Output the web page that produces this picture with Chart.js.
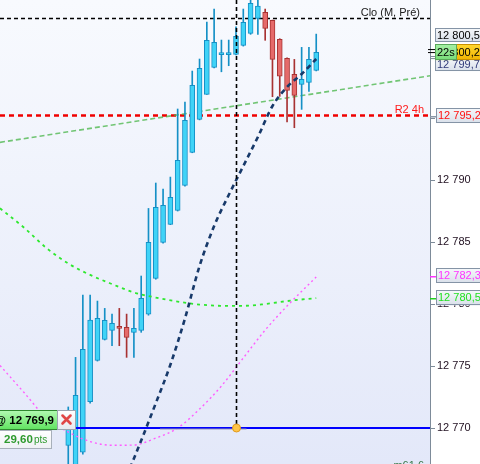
<!DOCTYPE html>
<html><head><meta charset="utf-8">
<script src="https://cdn.jsdelivr.net/npm/chart.js@4/dist/chart.umd.min.js"></script>
<style>html,body{margin:0;padding:0;background:#fff;overflow:hidden}#wrap{width:480px;height:464px}</style>
</head><body><div id="wrap"><canvas id="c" width="480" height="464"></canvas></div>
<script>
// ---- data ----
const candleIndex = [0,1,2,3,4,5,6,7,8,9,10,11,12,13,14,15,16,17,18,19,20,21,22,23,24,25,26,27,28,29,30,31,32,33,34];
const opens  = [12768.6,12767.0,12768.05,12772.12,12775.46,12777.15,12777.88,12778.2,12778.12,12777.72,12777.88,12779.18,12782.07,12784.97,12786.43,12787.55,12789.57,12792.23,12794.89,12796.91,12799.09,12800.12,12800.12,12800.14,12800.86,12801.83,12803.04,12803.52,12802.88,12801.35,12799.81,12798.52,12797.72,12797.88,12798.85];
const highs  = [12771.7,12775.7,12780.73,12780.73,12780.24,12779.65,12779.19,12779.65,12779.19,12779.65,12782.26,12787.71,12789.76,12789.27,12790.24,12795.73,12796.29,12798.79,12799.76,12802.74,12803.79,12801.29,12801.29,12802.36,12803.79,12805.0,12804.7,12803.79,12802.9,12801.4,12799.85,12799.73,12800.7,12800.7,12801.77];
const lows   = [12766.0,12766.5,12767.9,12772.0,12775.4,12777.1,12776.64,12776.64,12775.7,12775.7,12777.72,12779.1,12782.0,12784.9,12786.4,12787.5,12789.5,12792.2,12794.85,12796.9,12799.05,12798.73,12799.22,12800.1,12800.8,12801.75,12801.75,12801.27,12796.72,12796.75,12794.68,12794.22,12795.7,12797.15,12798.8];
const closes = [12770.9,12772.64,12776.35,12778.71,12778.85,12778.68,12778.44,12778.04,12777.31,12778.04,12780.46,12784.97,12787.8,12787.96,12788.6,12791.59,12794.81,12797.64,12799.01,12801.27,12801.1,12800.2,12800.2,12801.59,12802.72,12804.25,12804.03,12802.23,12799.73,12798.37,12797.23,12796.83,12798.12,12799.73,12800.3];

const longMaIdx  = [-9.36, 49.6];
const longMaVals = [12793.04, 12798.41];
const greenMaIdx  = [-9.36,-6,-3,0,3,6,9,12,15,18,21,24,27,30,34];
const greenMaVals = [12787.72,12786.13,12784.52,12783.27,12782.35,12781.61,12780.94,12780.52,12780.2,12779.96,12779.86,12779.86,12780.0,12780.24,12780.48];
const pinkMaIdx  = [-9.36,-6,-3,0,3,6,9,12,15,18,21,24,27,30,34];
const pinkMaVals = [12775.05,12772.82,12770.81,12769.68,12768.91,12768.61,12768.63,12769.19,12770.0,12771.53,12773.39,12775.65,12777.9,12779.84,12782.18];
const navyMaIdx  = [8,10,12,14,16,18,20,22,24,26,28,30,32,34];
const navyMaVals = [12766.1,12768.99,12772.0,12775.1,12778.83,12783.06,12786.29,12788.79,12791.13,12793.47,12795.97,12797.5,12798.55,12799.76];

const yTicks = [12770,12775,12780,12785,12790,12795,12800];
const cloLevel = 12803.05, r2Level = 12795.2, orderPrice = 12770, markerIndex = 23;
const tagHigh = 12800.5, tagLast = 12800.2, tagLow = 12799.7, tagR2 = 12795.2, tagPink = 12782.3, tagGreen = 12780.5;
const orderText = '@ 12 769,9', ptsText = '29,60', timerText = '22s';

// ---- helpers ----
const fmtTick = v => { const s = String(v); return s.slice(0,2)+' '+s.slice(2); };
const fmtVal = v => { const s = v.toFixed(1).replace('.', ','); return s.slice(0,2)+' '+s.slice(2); };
const isUp = closes.map((c,i)=>c>=opens[i]);
const upFill='#3fd3f7', upLine='#1590c6', dnFill='#e56a6a', dnLine='#a83232';

function box(ctx,x,y,w,h,fill0,fill1,stroke){
  const g=ctx.createLinearGradient(0,y,0,y+h); g.addColorStop(0,fill0); g.addColorStop(1,fill1);
  ctx.fillStyle=g; ctx.fillRect(x,y,w,h);
  ctx.strokeStyle=stroke; ctx.lineWidth=1; ctx.setLineDash([]);
  ctx.strokeRect(Math.round(x)+0.5,Math.round(y)+0.5,Math.round(w)-1,Math.round(h)-1);
}
function hline(ctx,a,y,color,w,dash){
  ctx.save(); ctx.beginPath(); ctx.strokeStyle=color; ctx.lineWidth=w; ctx.setLineDash(dash);
  ctx.moveTo(a.left,y); ctx.lineTo(a.right,y); ctx.stroke(); ctx.restore();
}

const deco = {
  id:'deco',
  beforeDraw(chart){
    const {ctx, chartArea:a} = chart;
    ctx.save();
    ctx.fillStyle='#fff'; ctx.fillRect(0,0,chart.width,chart.height);
    const g=ctx.createLinearGradient(0,a.top,0,a.bottom);
    g.addColorStop(0,'#f8fafe'); g.addColorStop(1,'#e3e8f9');
    ctx.fillStyle=g; ctx.fillRect(a.left,a.top,a.right-a.left,a.bottom-a.top);
    ctx.restore();
  },
  beforeDatasetsDraw(chart){
    const {ctx, chartArea:a, scales:{y}} = chart;
    const yc = Math.round(y.getPixelForValue(cloLevel))+0.5;
    hline(ctx,a,yc,'#000',1.4,[4,3]);
    const yr = y.getPixelForValue(r2Level);
    hline(ctx,a,yr,'#f00000',2.6,[5,4]);
    ctx.save();
    ctx.font='11px Arial, "Liberation Sans", sans-serif'; ctx.textAlign='right'; ctx.textBaseline='alphabetic';
    ctx.fillStyle='#202020'; ctx.fillText('Clo (M, Pré)', 420, yc-3);
    ctx.fillStyle='#ff1a1a'; ctx.fillText('R2 4h', 424, yr-3);
    ctx.restore();
  },
  afterDatasetsDraw(chart){
    const {ctx, chartArea:a, scales:{x,y}} = chart;
    const xm = Math.round(x.getPixelForValue(markerIndex))+0.5;
    const yp = Math.round(y.getPixelForValue(orderPrice));
    ctx.save();
    ctx.beginPath(); ctx.strokeStyle='#000'; ctx.lineWidth=1.6; ctx.setLineDash([4,3]);
    ctx.moveTo(xm,a.top); ctx.lineTo(xm,yp); ctx.stroke();
    ctx.setLineDash([]);
    ctx.beginPath(); ctx.strokeStyle='#0000ff'; ctx.lineWidth=2;
    ctx.moveTo(76,yp); ctx.lineTo(a.right,yp); ctx.stroke();
    ctx.beginPath(); ctx.strokeStyle='rgba(150,150,175,0.9)'; ctx.lineWidth=1.2;
    ctx.moveTo(160,yp+1); ctx.lineTo(xm+10,yp+1); ctx.stroke();
    ctx.beginPath(); ctx.arc(xm,yp,4,0,Math.PI*2); ctx.fillStyle='#ffc548'; ctx.fill();
    ctx.lineWidth=1; ctx.strokeStyle='#e09a20'; ctx.stroke();
    ctx.restore();
  },
  afterDraw(chart){
    const {ctx, chartArea:a, scales:{y}} = chart;
    ctx.save();
    const F='11px Arial, "Liberation Sans", sans-serif';
    ctx.font=F; ctx.textBaseline='middle'; ctx.textAlign='left';
    const X0=435, W=48;
    const yl = y.getPixelForValue(tagLast)-1.5;
    box(ctx,X0,yl+5,W,14,'#f6f8fb','#d9e0ea','#8594a6');
    ctx.fillStyle='#303a7a'; ctx.fillText(fmtVal(tagLow),X0+2,yl+12.5);
    box(ctx,X0,yl-24,W,14,'#f6f8fb','#d9e0ea','#8594a6');
    ctx.fillStyle='#000'; ctx.fillText(fmtVal(tagHigh),X0+2,yl-16.5);
    box(ctx,X0,yl-8,W,16,'#ffd830','#f2b400','#c89000');
    ctx.fillStyle='#000'; ctx.fillText(fmtVal(tagLast),X0+2,yl+0.5);
    box(ctx,X0,yl-8,22,16,'#a6f0a6','#78dc78','#5aa85a');
    ctx.fillStyle='#000'; ctx.fillText(timerText,X0+2,yl+0.5);
    ctx.fillStyle='#000'; ctx.fillRect(428,yl-3,7,1); ctx.fillRect(428,yl,7,1);
    ctx.fillStyle='#7d8b99'; ctx.fillRect(430,yl+6,5,1);
    const tags=[[tagR2,'#ff1010','#8a98a8'],[tagPink,'#ff33ff','#ff33ff'],[tagGreen,'#22e022','#22d022']];
    tags.forEach(([v,c,tc])=>{
      const yy=y.getPixelForValue(v);
      ctx.fillStyle=tc; ctx.fillRect(430,Math.round(yy),6,1.5);
      box(ctx,X0+1,yy-7.5,W,15,'#f6f8fb','#d9e0ea','#8594a6');
      ctx.fillStyle=c; ctx.fillText(fmtVal(v),X0+3,yy+0.5);
    });
    const yp = y.getPixelForValue(orderPrice);
    box(ctx,-2,yp-18,60,20,'#b4fab4','#5ee25e','#2f8a2f');
    ctx.font='bold 11.5px Arial, "Liberation Sans", sans-serif'; ctx.textAlign='right'; ctx.fillStyle='#000';
    ctx.fillText(orderText,54,yp-7.5);
    box(ctx,57,yp-18,19,20,'#ffffff','#e4e8ee','#9aa4b0');
    ctx.strokeStyle='#e04646'; ctx.lineWidth=2.6; ctx.lineCap='round'; ctx.beginPath();
    ctx.moveTo(62.5,yp-12.5); ctx.lineTo(70.5,yp-4.5); ctx.moveTo(70.5,yp-12.5); ctx.lineTo(62.5,yp-4.5); ctx.stroke();
    box(ctx,-2,yp+2,54,19,'#ffffff','#eef0f4','#a8b0ba');
    ctx.textAlign='left'; ctx.fillStyle='#2e9a2e';
    ctx.font='bold 11.5px Arial, "Liberation Sans", sans-serif'; ctx.fillText(ptsText,4,yp+11.5);
    ctx.font='10px Arial, "Liberation Sans", sans-serif'; ctx.fillText('pts',34,yp+12);
    ctx.font=F; ctx.textAlign='right'; ctx.textBaseline='alphabetic'; ctx.fillStyle='#3a7a4a';
    ctx.fillText('m61,6',424,469);
    ctx.restore();
  }
};

const bodies = candleIndex.map((i,k)=>({x:i,y:[opens[k],closes[k]]}));
const wicks  = candleIndex.map((i,k)=>({x:i,y:[lows[k],highs[k]]}));
const pts = (xs,vs)=>xs.map((x,k)=>({x,y:vs[k]}));

new Chart(document.getElementById('c'),{
  type:'bar',
  data:{datasets:[
    {type:'line',data:pts(navyMaIdx,navyMaVals),borderColor:'#17396a',borderWidth:2.6,borderDash:[5,4],pointRadius:0,cubicInterpolationMode:'monotone',order:0},
    {type:'line',data:pts(pinkMaIdx,pinkMaVals),borderColor:'#ff5cff',borderWidth:1.4,borderDash:[2,3],pointRadius:0,cubicInterpolationMode:'monotone',order:1},
    {type:'line',data:pts(greenMaIdx,greenMaVals),borderColor:'#2ee82e',borderWidth:1.8,borderDash:[3,4],pointRadius:0,cubicInterpolationMode:'monotone',order:2},
    {type:'bar',data:bodies,grouped:false,barThickness:5,minBarLength:2,borderWidth:1,borderSkipped:false,
      backgroundColor:isUp.map(u=>u?upFill:dnFill),borderColor:isUp.map(u=>u?upLine:dnLine),order:3},
    {type:'bar',data:wicks,grouped:false,barThickness:1,borderWidth:0,
      backgroundColor:isUp.map(u=>u?upLine:dnLine),order:4},
    {type:'line',data:pts(longMaIdx,longMaVals),borderColor:'rgba(70,180,70,0.75)',borderWidth:1.6,borderDash:[5,3],pointRadius:0,order:5}
  ]},
  options:{
    responsive:false, animation:false, events:[],
    layout:{padding:0},
    plugins:{legend:{display:false},tooltip:{enabled:false}},
    scales:{
      x:{type:'linear',min:-9.36,max:49.6,offset:false,display:false,grid:{offset:false}},
      y:{type:'linear',position:'right',min:12767.1,max:12804.52,
        afterBuildTicks:s=>{s.ticks=yTicks.map(v=>({value:v}));},
        afterFit:s=>{s.width=50;s.paddingTop=0;s.paddingBottom=0;},
        ticks:{callback:v=>fmtTick(v),color:'#201020',font:{family:'Arial, "Liberation Sans", sans-serif',size:11},padding:2,includeBounds:false},
        grid:{drawOnChartArea:false,tickLength:5,color:'#7d8b99'},
        border:{display:true,color:'#7d8b99',width:1}}
    }
  },
  plugins:[deco]
});
</script></body></html>
